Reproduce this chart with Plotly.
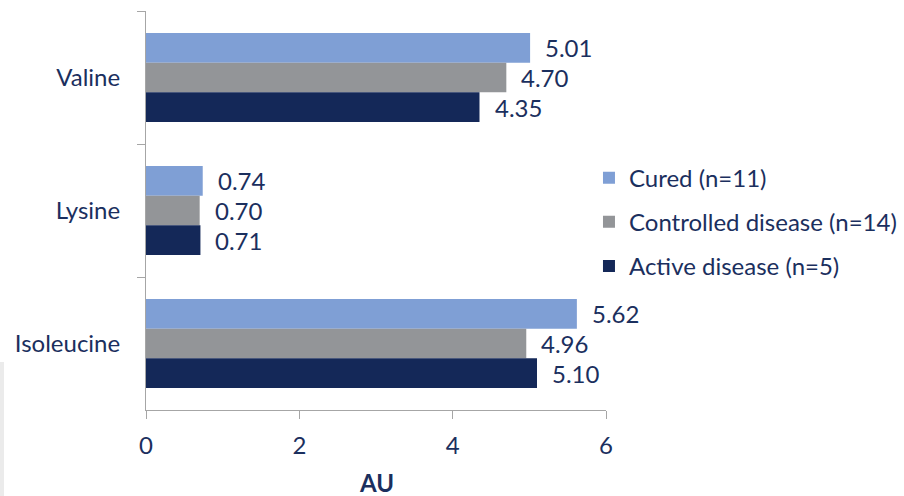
import plotly.graph_objects as go

categories = ["Valine", "Lysine", "Isoleucine"]
series_names = ["Cured (n=11)", "Controlled disease (n=14)", "Active disease (n=5)"]
cured = [5.01, 0.74, 5.62]
controlled = [4.70, 0.70, 4.96]
active = [4.35, 0.71, 5.10]
x_ticks = [0, 2, 4, 6]

colors = ["#7F9FD5", "#939598", "#142858"]
text_color = "#1B2F5E"
font_family = "Lato, 'Open Sans', sans-serif"
fs = 24

fig = go.Figure()
for name, vals, col in zip(series_names, [cured, controlled, active], colors):
    fig.add_trace(go.Bar(
        y=categories, x=vals, name=name, orientation="h",
        marker=dict(color=col, line=dict(width=0)),
        legendgroup=name,
        textposition="none",
    ))

annotations = []
for ti, vals in enumerate([cured, controlled, active]):
    for cat, v in zip(categories, vals):
        annotations.append(dict(
            x=v, y=cat, xref="x", yref="y", text=f"{v:.2f}",
            showarrow=False, xanchor="left", xshift=13,
            yshift=(1 - ti) * 29.6,
            font=dict(size=fs, color=text_color, family=font_family),
        ))

annotations.append(dict(
    x=0.5, y=-86/399, xref="paper", yref="paper", yanchor="bottom",
    text="<b>AU</b>", showarrow=False, borderpad=0, yshift=-2,
    font=dict(size=fs, color=text_color, family=font_family),
))

fig.update_layout(
    width=904, height=496,
    margin=dict(l=146, r=298, t=11, b=86, autoexpand=False),
    paper_bgcolor="white", plot_bgcolor="white",
    barmode="group", bargap=0.33, bargroupgap=0,
    font=dict(family=font_family, size=fs, color=text_color),
    showlegend=True,
    legend=dict(
        x=0.963, xanchor="left", y=0.471, yanchor="middle",
        font=dict(size=fs, color=text_color, family=font_family),
        tracegroupgap=10, itemwidth=30,
        bgcolor="rgba(0,0,0,0)",
    ),
    annotations=annotations,
    shapes=[dict(type="rect", xref="paper", yref="paper",
                 x0=-146/460, x1=-142/460, y0=-86/399, y1=(410-362)/399,
                 fillcolor="#EBEBEB", line=dict(width=0), layer="below")],
)

fig.update_xaxes(
    range=[0, 6], tickvals=x_ticks, ticktext=[str(t) for t in x_ticks],
    showgrid=False, zeroline=False,
    showline=True, linecolor="#A6A6A6", linewidth=1,
    ticks="outside", ticklen=8, tickcolor="#A6A6A6",
    tickfont=dict(size=fs, color=text_color), ticklabelstandoff=6,
)
fig.update_yaxes(
    autorange="reversed", type="category",
    showgrid=False, zeroline=False,
    showline=True, linecolor="#A6A6A6", linewidth=1,
    ticks="outside", ticklen=8, tickcolor="#A6A6A6", tickson="boundaries",
    tickfont=dict(size=fs, color=text_color), ticklabelstandoff=20,
)

fig.write_html("out.html")
